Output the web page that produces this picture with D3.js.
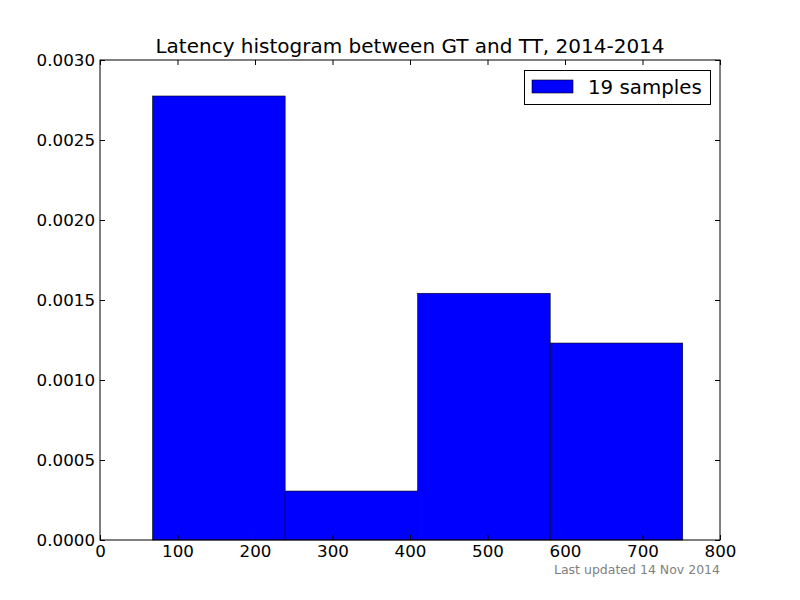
<!DOCTYPE html>
<html><head><meta charset="utf-8">
<script src="https://cdn.jsdelivr.net/npm/d3@7"></script>
<style>body{margin:0;background:#fff}svg{display:block}text{font-family:"DejaVu Sans",sans-serif}</style>
</head><body>
<svg id="c" width="800" height="600"></svg>
<script>
const binEdges = [67.9, 238.9, 409.9, 580.9, 751.9];
const densities = [0.002775, 0.000306, 0.001542, 0.001231];
const xTicks = [0, 100, 200, 300, 400, 500, 600, 700, 800];
const yTicks = [0, 0.0005, 0.001, 0.0015, 0.002, 0.0025, 0.003];
const title = "Latency histogram between GT and TT, 2014-2014";
const legendLabel = "19 samples";
const footer = "Last updated 14 Nov 2014";

const svg = d3.select("#c");
const L = 100, R = 720, T = 60, B = 540;
const x = d3.scaleLinear().domain([0, 800]).range([L, R]);
const y = d3.scaleLinear().domain([0, 0.003]).range([B, T]);

const bins = densities.map((d, i) => ({x0: binEdges[i], x1: binEdges[i+1], v: d}));
svg.append("g").selectAll("rect").data(bins).join("rect")
  .attr("x", d => x(d.x0)).attr("y", d => y(d.v))
  .attr("width", d => x(d.x1) - x(d.x0)).attr("height", d => y(0) - y(d.v))
  .attr("fill", "#0000ff").attr("stroke", "#000").attr("stroke-width", 0.6);

// axes with inward ticks
const gx = svg.append("g").attr("transform", `translate(0,${B})`)
  .call(d3.axisBottom(x).tickValues(xTicks).tickSize(-5).tickPadding(5.5).tickFormat(d3.format("d")));
const gxt = svg.append("g").attr("transform", `translate(0,${T})`)
  .call(d3.axisTop(x).tickValues(xTicks).tickSize(-5).tickFormat(""));
const gy = svg.append("g").attr("transform", `translate(${L},0)`)
  .call(d3.axisLeft(y).tickValues(yTicks).tickSize(-5).tickPadding(5).tickFormat(d3.format(".4f")));
const gyr = svg.append("g").attr("transform", `translate(${R},0)`)
  .call(d3.axisRight(y).tickValues(yTicks).tickSize(-5).tickFormat(""));
[gx, gxt, gy, gyr].forEach(g => {
  g.select(".domain").remove();
  g.attr("font-size", null);
  g.selectAll("text").attr("font-size", 16.7).attr("fill", "#000").style("font-family", "DejaVu Sans");
  g.selectAll("line").attr("stroke", "#000");
});
svg.append("rect").attr("x", L).attr("y", T).attr("width", R - L).attr("height", B - T)
  .attr("fill", "none").attr("stroke", "#000").attr("stroke-width", 1);

svg.append("text").attr("x", (L + R) / 2).attr("y", 53).attr("text-anchor", "middle")
  .attr("font-size", 20).text(title);

// legend
const lg = svg.append("g");
lg.append("rect").attr("x", 524.5).attr("y", 70.5).attr("width", 186).attr("height", 34)
  .attr("fill", "#fff").attr("stroke", "#000");
lg.append("rect").attr("x", 532).attr("y", 80).attr("width", 41).attr("height", 13)
  .attr("fill", "#0000ff").attr("stroke", "#000").attr("stroke-width", 0.6);
lg.append("text").attr("x", 588).attr("y", 94).attr("font-size", 19.8).text(legendLabel);

svg.append("text").attr("x", 720).attr("y", 574).attr("text-anchor", "end")
  .attr("font-size", 12.5).attr("fill", "#808080").text(footer);
</script>
</body></html>
